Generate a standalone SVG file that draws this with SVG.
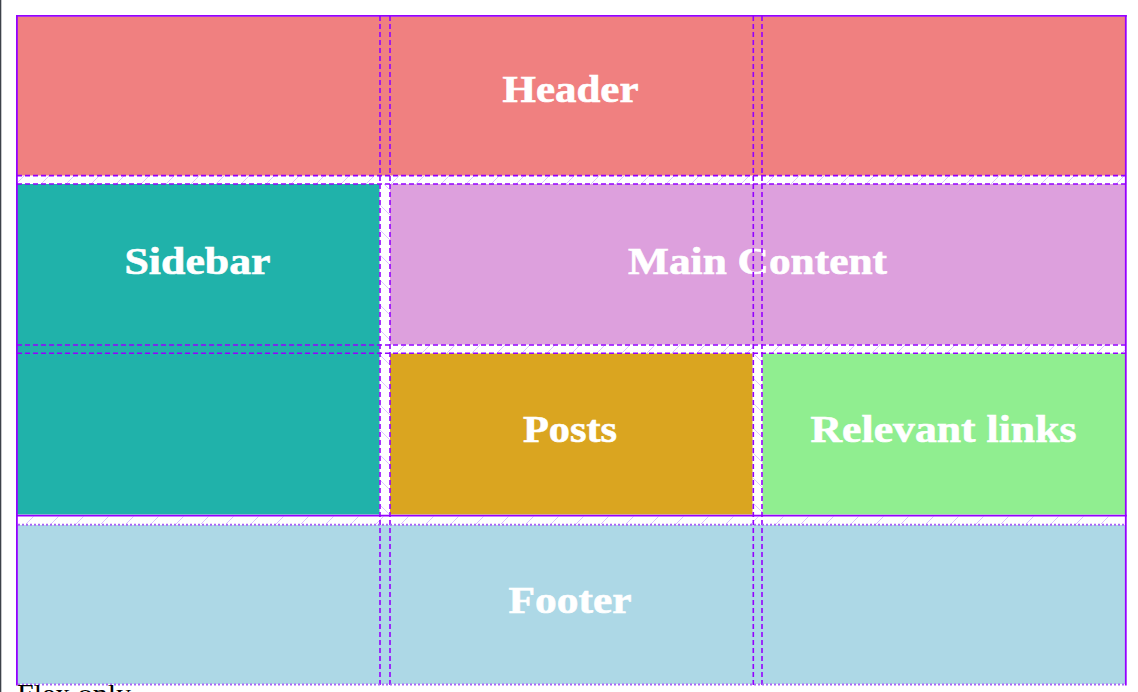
<svg xmlns="http://www.w3.org/2000/svg" width="1138" height="692" viewBox="0 0 1138 692">
  <style>
    .lbl { font-family: "Liberation Serif", "Times New Roman", serif; font-weight: bold; font-size: 37px; fill: #ffffff; stroke: #ffffff; stroke-width: 0.6; text-anchor: middle; }
    .solid { stroke: #9400ff; stroke-width: 1.8; fill: none; }
    .dash { stroke: #9400ff; stroke-width: 1.6; stroke-dasharray: 5 3; fill: none; }
    .dot { stroke: #a866f7; stroke-width: 2; stroke-dasharray: 2 2; fill: none; }
  </style>
  <defs>
    <pattern id="hatchRow" width="25" height="25" patternUnits="userSpaceOnUse">
      <line x1="0" y1="25" x2="25" y2="0" stroke="#dcc4ff" stroke-width="1"/>
    </pattern>
    <pattern id="hatchCol" width="25" height="25" patternUnits="userSpaceOnUse">
      <line x1="0" y1="0" x2="25" y2="25" stroke="#dcc4ff" stroke-width="1"/>
    </pattern>
  </defs>
  <rect x="0" y="0" width="1138" height="692" fill="#ffffff"/>
  <rect x="0" y="0" width="1.3" height="692" fill="#3d4149"/>

  <!-- gap hatching -->
  <g id="gaps">
    <rect x="17" y="176" width="1108" height="8" fill="url(#hatchRow)"/>
    <rect x="390" y="345" width="735" height="8" fill="url(#hatchRow)"/>
    <rect x="17" y="516.5" width="1108" height="7.5" fill="url(#hatchRow)"/>
    <rect x="380" y="184" width="10" height="331" fill="url(#hatchCol)"/>
    <rect x="753" y="353" width="10" height="162" fill="url(#hatchCol)"/>
  </g>

  <g id="header">
    <rect x="17" y="16.5" width="1108.5" height="159" fill="#f08080"/>
    <text class="lbl" x="570.5" y="101.5" textLength="136" lengthAdjust="spacingAndGlyphs">Header</text>
  </g>
  <g id="sidebar">
    <rect x="17" y="184" width="362.5" height="330.5" fill="#20b2aa"/>
    <text class="lbl" x="197.5" y="274" textLength="146" lengthAdjust="spacingAndGlyphs">Sidebar</text>
  </g>
  <g id="main-content">
    <rect x="390" y="184" width="735.5" height="160.5" fill="#dda0dd"/>
    <text class="lbl" x="757.5" y="274" textLength="259" lengthAdjust="spacingAndGlyphs">Main Content</text>
  </g>
  <g id="posts">
    <rect x="390" y="353.5" width="362.5" height="161" fill="#daa520"/>
    <text class="lbl" x="570" y="441.5" textLength="94" lengthAdjust="spacingAndGlyphs">Posts</text>
  </g>
  <g id="relevant-links">
    <rect x="762.5" y="353.5" width="363" height="161" fill="#90ee90"/>
    <text class="lbl" x="943.5" y="441.5" textLength="266" lengthAdjust="spacingAndGlyphs">Relevant links</text>
  </g>
  <g id="footer">
    <rect x="17" y="525" width="1108.5" height="159" fill="#add8e6"/>
    <text class="lbl" x="570" y="613" textLength="123" lengthAdjust="spacingAndGlyphs">Footer</text>
  </g>

  <g id="grid-lines">
    <line class="dash" x1="380" y1="16" x2="380" y2="685"/>
    <line class="dash" x1="390" y1="16" x2="390" y2="685"/>
    <line class="dash" x1="753.3" y1="16" x2="753.3" y2="685"/>
    <line class="dash" x1="762" y1="16" x2="762" y2="685"/>
    <line class="dash" x1="17" y1="175.6" x2="1125" y2="175.6"/>
    <line class="dash" x1="17" y1="184" x2="1125" y2="184"/>
    <line class="dash" x1="17" y1="345" x2="1125" y2="345"/>
    <line class="dash" x1="17" y1="353.3" x2="1125" y2="353.3"/>
    <line class="dot" x1="18" y1="524.8" x2="1125" y2="524.8"/>
    <line class="dot" x1="18" y1="684.5" x2="1125" y2="684.5"/>
    <line class="solid" x1="16.1" y1="15.8" x2="1126.7" y2="15.8"/>
    <line class="solid" x1="16.9" y1="15" x2="16.9" y2="685.5"/>
    <line class="solid" x1="1125.8" y1="15" x2="1125.8" y2="685.5"/>
    <line class="solid" x1="16" y1="515.6" x2="1126.7" y2="515.6"/>
  </g>

  <text x="17" y="702" font-family="Liberation Serif, 'Times New Roman', serif" font-size="25" fill="#000000" textLength="114" lengthAdjust="spacingAndGlyphs">Flex only</text>
</svg>
